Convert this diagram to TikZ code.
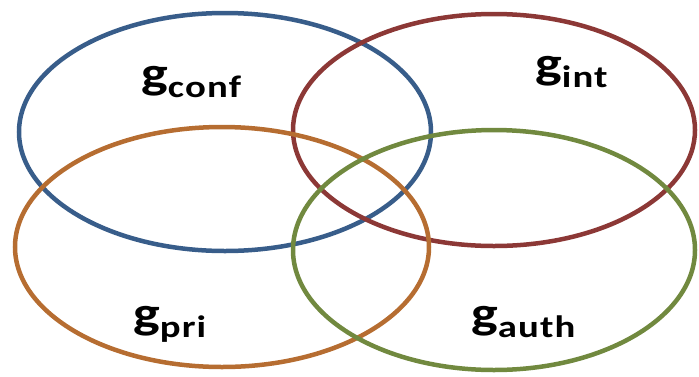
\documentclass[tikz,border=0pt]{standalone}
\usepackage{fontspec}
\setmainfont{Carlito}
\tikzset{
  ring/.style={line width=4.5pt},
  lbl/.style={font=\bfseries, inner sep=0pt, anchor=base west},
}
\definecolor{cblue}{HTML}{385D8A}
\definecolor{cred}{HTML}{8C3836}
\definecolor{corange}{HTML}{B66D31}
\definecolor{cgreen}{HTML}{71893F}
\newcommand{\glab}[1]{\scalebox{1.25}[1]{{\fontsize{45}{45}\selectfont g}\raisebox{-9pt}{\fontsize{31}{31}\selectfont\addfontfeatures{LetterSpace=3} #1}}}
\begin{document}
\begin{tikzpicture}[x=1pt,y=-1pt]
\useasboundingbox (0,0) rectangle (699,376);
\draw[ring, cblue] (225,132) ellipse [x radius=206, y radius=119];
\draw[ring, cred] (494,130) ellipse [x radius=201, y radius=116];
\draw[ring, corange] (222,247) ellipse [x radius=207, y radius=120];
\draw[ring, cgreen] (494,250) ellipse [x radius=201, y radius=120];
\node[lbl] (conf) at (141,88.5) {\glab{conf}};
\node[lbl] (int) at (535,78.5) {\glab{int}};
\node[lbl] (pri) at (133,328.5) {\glab{pri}};
\node[lbl] (auth) at (471,328.5) {\glab{auth}};
\end{tikzpicture}
\end{document}
